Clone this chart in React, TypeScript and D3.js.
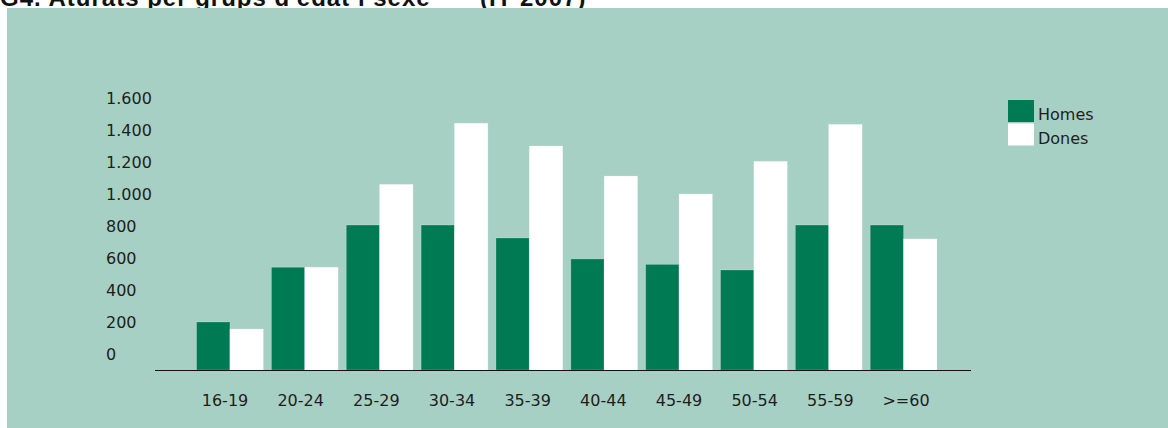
import React from 'react';
import * as d3 from 'd3';

const categories = ['16-19', '20-24', '25-29', '30-34', '35-39', '40-44', '45-49', '50-54', '55-59', '>=60'];
const seriesNames = ['Homes', 'Dones'];
const homes = [300, 642, 906, 906, 825, 694, 660, 625, 906, 906];
const dones = [256, 642, 1160, 1542, 1400, 1212, 1100, 1304, 1535, 819];
const yTicks = [0, 200, 400, 600, 800, 1000, 1200, 1400, 1600];
const titleMain = "G4. Aturats per grups d'edat i sexe";
const titleTail = '(IT 2007)';

const W = 1168;
const H = 428;
const BG = '#a7d0c4';
const GREEN = '#007a52';
const WHITE = '#ffffff';
const TEXT = '#1e1e1e';
const FONT = '"DejaVu Sans", sans-serif';

export default function App() {
  const x0 = d3.scaleBand<string>().domain(categories).range([192.5, 941]).paddingInner(0.109).paddingOuter(0.0545);
  const x1 = d3.scaleBand<string>().domain(seriesNames).range([0, x0.bandwidth()]).padding(0);
  const xLabel = d3.scalePoint<string>().domain(categories).range([225, 906]);
  const y = d3.scaleLinear().domain([0, 1600]).range([370, 114]);
  const fmt = (v: number) => d3.format(',')(v).replace(/,/g, '.');
  const colors = d3.scaleOrdinal<string, string>().domain(seriesNames).range([GREEN, WHITE]);
  const values: Record<string, number[]> = { Homes: homes, Dones: dones };

  return (
    <svg width={W} height={H} style={{ position: 'absolute', left: 0, top: 0, display: 'block' }}>
      <rect x={0} y={0} width={W} height={H} fill="#ffffff" />
      <text x={0} y={5.5} fontFamily='"Liberation Sans", Arial, sans-serif' fontWeight="bold" fontSize={24} letterSpacing={1} fill="#111">
        {titleMain}
      </text>
      <text x={480} y={5.5} fontFamily='"Liberation Sans", Arial, sans-serif' fontWeight="bold" fontSize={24} letterSpacing={1} fill="#111">
        {titleTail}
      </text>
      <rect x={7} y={8} width={W - 7} height={H - 8} fill={BG} />

      {yTicks.map((t) => (
        <text key={t} x={106} y={y(t) - 10} fontFamily={FONT} fontSize={16} fill={TEXT}>
          {fmt(t)}
        </text>
      ))}

      {categories.map((c, i) => (
        <g key={c} transform={`translate(${x0(c)},0)`}>
          {seriesNames.map((s) => (
            <rect
              key={s}
              x={x1(s)}
              y={y(values[s][i])}
              width={x1.bandwidth()}
              height={y(0) - y(values[s][i])}
              fill={colors(s)}
              stroke="rgba(255,255,255,0.25)"
              strokeWidth={0.8}
            />
          ))}
        </g>
      ))}

      <line x1={155} x2={971} y1={370.5} y2={370.5} stroke="#111" strokeWidth={1.2} />

      {categories.map((c) => (
        <text key={c} x={xLabel(c)} y={406} textAnchor="middle" fontFamily={FONT} fontSize={16} fill={TEXT}>
          {c}
        </text>
      ))}

      {seriesNames.map((s, i) => (
        <g key={s} transform={`translate(1008, ${100 + i * 23.5})`}>
          <rect x={0} y={0} width={26} height={22} fill={colors(s)} />
          <text x={30} y={20} fontFamily={FONT} fontSize={16} fill={TEXT}>
            {s}
          </text>
        </g>
      ))}
    </svg>
  );
}
